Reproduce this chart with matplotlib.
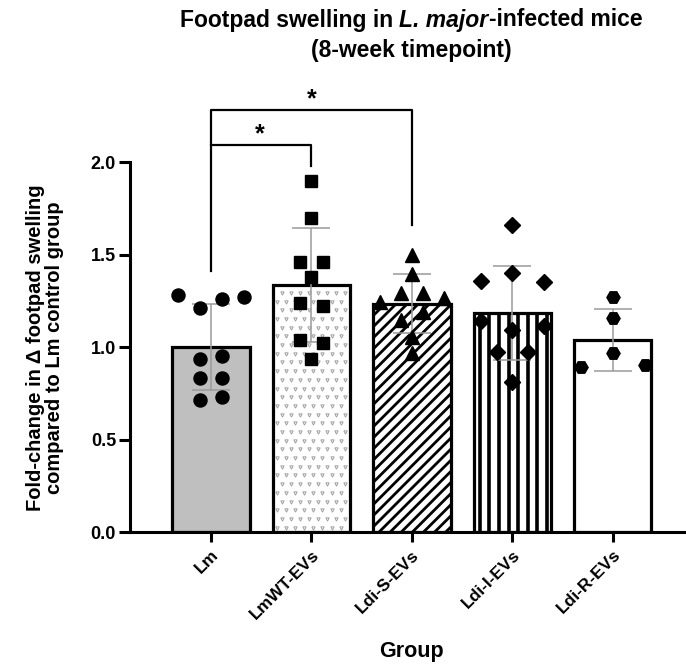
import matplotlib
matplotlib.use("Agg")
import matplotlib.pyplot as plt
import numpy as np

plt.rcParams['font.family'] = ['Liberation Sans', 'DejaVu Sans']
plt.rcParams['font.weight'] = 'bold'

groups = ['Lm', 'LmWT-EVs', 'Ldi-S-EVs', 'Ldi-I-EVs', 'Ldi-R-EVs']
means = [1.0, 1.335, 1.234, 1.185, 1.04]
sds = [0.23, 0.307, 0.16, 0.253, 0.167]

lm = [1.28, 1.21, 1.26, 1.27, 0.935, 0.953, 0.83, 0.83, 0.713, 0.728]
lmwt = [1.90, 1.70, 1.46, 1.46, 1.38, 1.236, 1.223, 1.038, 1.023, 0.933]
ldi_s = [1.497, 1.393, 1.29, 1.29, 1.245, 1.263, 1.146, 1.19, 1.056, 0.966]
ldi_i = [1.659, 1.358, 1.402, 1.35, 1.142, 1.092, 1.114, 0.971, 0.971, 0.809]
ldi_r = [1.272, 1.158, 0.969, 0.894, 0.903]
points = [lm, lmwt, ldi_s, ldi_i, ldi_r]

# horizontal scatter spread of the dots inside each column
spread = [
    [-0.33, -0.11, 0.11, 0.33, -0.11, 0.11, -0.11, 0.11, -0.11, 0.11],
    [0, 0, -0.116, 0.116, 0, -0.116, 0.116, -0.116, 0.116, 0],
    [0, 0, -0.11, 0.11, -0.32, 0.32, -0.11, 0.11, 0, 0],
    [0, -0.31, 0, 0.32, -0.31, 0, 0.32, -0.15, 0.16, 0],
    [0, 0, 0, -0.32, 0.32],
]
markers = ['o', 's', '^', 'D', 'H']
msizes = [9.4, 8.0, 9.5, 8.0, 9.5]

fig = plt.figure(figsize=(6.86, 6.66), dpi=100)
ax = fig.add_axes([0.1895, 0.2012, 0.8105, 0.6944])

w = 0.77
x = list(range(len(groups)))

# bar fills
ax.bar(0, means[0], w, color='#bfbfbf', edgecolor='none', zorder=1)
ax.bar(1, means[1], w, color='white', edgecolor='none', zorder=1)
plt.rcParams['hatch.linewidth'] = 2.0
ax.bar(2, means[2], w, color='white', edgecolor='black', linewidth=0, hatch='///', zorder=1)
ax.bar(3, means[3], w, color='white', edgecolor='none', zorder=1)
ax.bar(4, means[4], w, color='white', edgecolor='none', zorder=1)

# small grey "v" texture for the LmWT-EVs bar
dx, dy = 0.09, 0.047
rows = np.arange(dy / 2, means[1], dy)
for k, yy in enumerate(rows):
    shift = dx / 2 if k % 2 else 0
    xs = np.arange(1 - w / 2 + dx / 2 + shift, 1 + w / 2 - 0.02, dx)
    ax.plot(xs, np.full(len(xs), yy), linestyle='none', marker='v', markersize=2.4,
            markerfacecolor='none', markeredgecolor='#a0a0a0', markeredgewidth=0.7, zorder=1.2)

# vertical stripes for the Ldi-I-EVs bar
sx = np.arange(3 - w / 2 + 0.06, 3 + w / 2 - 0.03, 0.096)
ax.vlines(sx, 0, means[3], colors='black', linewidth=2.6, zorder=1.2)

# outlines
ax.bar(x, means, w, fill=False, edgecolor='black', linewidth=2.3, zorder=1.5)

ax.errorbar(x, means, yerr=sds, fmt='none', ecolor='#9a9a9a', elinewidth=1.1,
            capsize=14, capthick=1.1, zorder=2)

for i in range(len(groups)):
    xs = [i + d for d in spread[i]]
    ax.plot(xs, points[i], linestyle='none', marker=markers[i], markersize=msizes[i],
            color='black', zorder=3)

# significance brackets
blw = 1.6
ax.plot([0, 0, 2, 2], [1.41, 2.28, 2.28, 1.66], color='black', lw=blw, clip_on=False, zorder=4)
ax.plot([0, 1, 1], [2.09, 2.09, 1.98], color='black', lw=blw, clip_on=False, zorder=4)
ax.text(0.49, 2.15, '*', ha='center', va='center', fontsize=18, fontweight='bold')
ax.text(1.0, 2.34, '*', ha='center', va='center', fontsize=18, fontweight='bold')

ax.set_xlim(-0.807, 4.73)
ax.set_ylim(0, 2.5)
ax.set_yticks([0, 0.5, 1.0, 1.5, 2.0])
ax.set_yticklabels(['0.0', '0.5', '1.0', '1.5', '2.0'], fontsize=13, fontweight='bold')
ax.set_xticks(x)
ax.set_xticklabels(groups, rotation=45, ha='right', va='top', rotation_mode='anchor',
                   fontsize=12.5, fontweight='bold')
ax.spines['top'].set_visible(False)
ax.spines['right'].set_visible(False)
ax.spines['left'].set_bounds(0, 2.0)
ax.spines['left'].set_linewidth(2.2)
ax.spines['bottom'].set_linewidth(2.2)
ax.tick_params(axis='y', direction='out', length=8, width=2.2, pad=2)
ax.tick_params(axis='x', direction='out', length=7, width=2.2, pad=4)

# title line 1 with the species name in italics, pieces laid out side by side
tsize = 16.5
renderer = fig.canvas.get_renderer()
pieces = [('Footpad swelling in ', 'normal'), ('L. major', 'italic'), ('-infected mice', 'normal')]
tmp = fig.text(0, 0, 'a a', fontsize=tsize, fontweight='bold')
tmp2 = fig.text(0, 0, 'aa', fontsize=tsize, fontweight='bold')
space_w = tmp.get_window_extent(renderer).width - tmp2.get_window_extent(renderer).width
tmp.remove()
tmp2.remove()
widths = []
for s, st in pieces:
    t = fig.text(0, 0, s.strip(), fontsize=tsize, fontweight='bold', fontstyle=st)
    widths.append(t.get_window_extent(renderer).width + (space_w if s.endswith(' ') else 0))
    t.remove()
total = sum(widths)
cx = 411
xpos = cx - total / 2
for (s, st), wd in zip(pieces, widths):
    fig.text(xpos / 686, 1 - 20 / 666, s.strip(), ha='left', va='center', fontsize=tsize,
             fontweight='bold', fontstyle=st)
    xpos += wd

fig.text(411 / 686, 1 - 50 / 666, '(8-week timepoint)', ha='center', va='center',
         fontsize=tsize, fontweight='bold')
fig.text(45 / 686, 1 - 348 / 666, 'Fold-change in Δ footpad swelling\ncompared to Lm control group',
         rotation=90, ha='center', va='center', fontsize=14.5, fontweight='bold', linespacing=1.0)
fig.text(411 / 686, 1 - 652 / 666, 'Group', ha='center', va='center', fontsize=15.5,
         fontweight='bold')

fig.savefig('out.png', dpi=100)
